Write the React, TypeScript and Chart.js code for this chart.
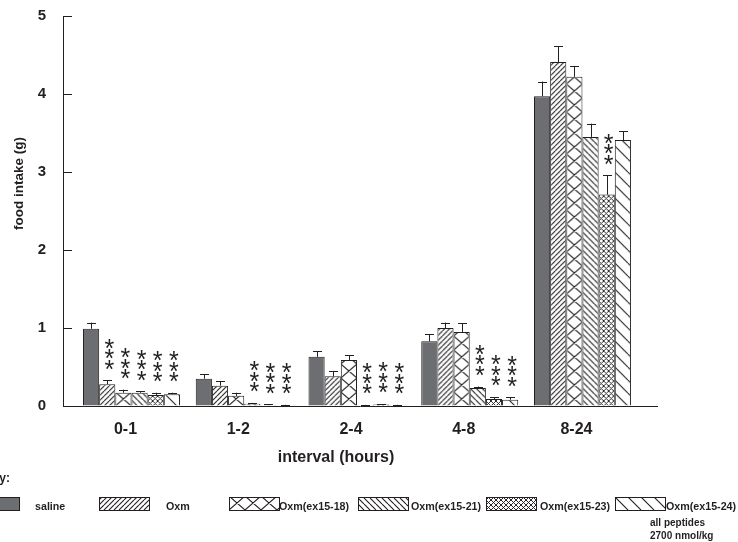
import React, { useEffect, useRef } from 'react';
import { Chart, registerables } from 'chart.js';

Chart.register(...registerables);

// ---- data -------------------------------------------------------------
const categories = ['0-1', '1-2', '2-4', '4-8', '8-24'];
const seriesNames = ['saline', 'Oxm', 'Oxm(ex15-18)', 'Oxm(ex15-21)', 'Oxm(ex15-23)', 'Oxm(ex15-24)'];

const saline = [0.99, 0.35, 0.63, 0.83, 3.97];
const oxm = [0.28, 0.26, 0.38, 1.0, 4.41];
const oxm1518 = [0.17, 0.13, 0.59, 0.95, 4.22];
const oxm1521 = [0.17, 0.03, 0.01, 0.23, 3.45];
const oxm1523 = [0.14, 0.01, 0.02, 0.09, 2.71];
const oxm1524 = [0.15, 0.01, 0.01, 0.08, 3.41];

const salineErr = [0.08, 0.06, 0.07, 0.09, 0.19];
const oxmErr = [0.05, 0.06, 0.07, 0.07, 0.2];
const oxm1518Err = [0.04, 0.04, 0.06, 0.11, 0.14];
const oxm1521Err = [0.02, 0.01, 0.005, 0.02, 0.17];
const oxm1523Err = [0.03, 0.01, 0.005, 0.025, 0.25];
const oxm1524Err = [0.02, 0.005, 0.005, 0.03, 0.11];

// number of significance asterisks above each bar
const salineSig = [0, 0, 0, 0, 0];
const oxmSig = [3, 0, 0, 0, 0];
const oxm1518Sig = [3, 0, 0, 0, 0];
const oxm1521Sig = [3, 3, 3, 3, 0];
const oxm1523Sig = [3, 3, 3, 3, 3];
const oxm1524Sig = [3, 3, 3, 3, 0];

const yTicks = [0, 1, 2, 3, 4, 5];

const values = [saline, oxm, oxm1518, oxm1521, oxm1523, oxm1524];
const errors = [salineErr, oxmErr, oxm1518Err, oxm1521Err, oxm1523Err, oxm1524Err];
const stars = [salineSig, oxmSig, oxm1518Sig, oxm1521Sig, oxm1523Sig, oxm1524Sig];

// ---- styling -----------------------------------------------------------
const INK = '#231f20';
const GREY = '#6d6e71';
const FONT = '"Liberation Sans", Arial, Helvetica, sans-serif';
const CAT_PCT = 0.86;
const fills = ['solid', 'fwd', 'diamond', 'back', 'fine', 'sparse'];

type Kind = 'solid' | 'fwd' | 'diamond' | 'back' | 'fine' | 'sparse';

const tileCache: Record<string, HTMLCanvasElement> = {};

function tile(kind: Kind): HTMLCanvasElement {
  if (tileCache[kind]) return tileCache[kind];
  const dims: Record<string, [number, number]> = {
    fwd: [5, 5],
    diamond: [16, 14],
    back: [6, 6],
    fine: [5, 5],
    sparse: [13, 13],
    solid: [4, 4],
  };
  const [w, h] = dims[kind];
  const c = document.createElement('canvas');
  c.width = w;
  c.height = h;
  const g = c.getContext('2d')!;
  g.fillStyle = '#ffffff';
  g.fillRect(0, 0, w, h);
  g.strokeStyle = INK;
  g.lineWidth = kind === 'fine' ? 0.95 : 1.1;
  const up = () => {
    for (let k = -1; k <= 1; k++) {
      g.moveTo(k * w, h);
      g.lineTo(k * w + w, 0);
    }
  };
  const down = () => {
    for (let k = -1; k <= 1; k++) {
      g.moveTo(k * w, 0);
      g.lineTo(k * w + w, h);
    }
  };
  g.beginPath();
  if (kind === 'fwd') up();
  if (kind === 'back' || kind === 'sparse') down();
  if (kind === 'diamond' || kind === 'fine') {
    up();
    down();
  }
  if (kind === 'solid') {
    g.fillStyle = GREY;
    g.fillRect(0, 0, w, h);
  }
  g.stroke();
  tileCache[kind] = c;
  return c;
}

function patternAt(ctx: CanvasRenderingContext2D, kind: Kind, left: number, bottom: number) {
  if (kind === 'solid') return GREY;
  const p = ctx.createPattern(tile(kind), 'repeat')!;
  p.setTransform(new DOMMatrix([1, 0, 0, 1, left, bottom]));
  return p;
}

const fillFor = (kind: Kind) => (c: any) => {
  const chart = c.chart;
  if (kind === 'solid') return GREY;
  if (c.type !== 'data' || !chart.scales || !chart.scales.x) return patternAt(chart.ctx, kind, 0, 0);
  const xs = chart.scales.x;
  const ys = chart.scales.y;
  const step = xs.getPixelForValue(1) - xs.getPixelForValue(0);
  const full = step * CAT_PCT;
  const w = full / values.length;
  const left = xs.getPixelForValue(c.dataIndex) - full / 2 + c.datasetIndex * w;
  return patternAt(chart.ctx, kind, left, ys.getPixelForValue(0));
};

// error bars, asterisks, axis titles, inner y ticks and the key
const decorations = {
  id: 'decorations',
  afterDatasetsDraw(chart: any) {
    const { ctx } = chart;
    const ys = chart.scales.y;
    ctx.save();
    ctx.strokeStyle = INK;
    ctx.lineWidth = 1;
    values.forEach((vals, di) => {
      const meta = chart.getDatasetMeta(di);
      vals.forEach((v, i) => {
        const el = meta.data[i];
        const x = Math.round(el.x) + 0.5;
        const top = ys.getPixelForValue(v + errors[di][i]);
        ctx.beginPath();
        ctx.moveTo(x, ys.getPixelForValue(v));
        ctx.lineTo(x, top);
        ctx.moveTo(x - 4.5, Math.round(top) + 0.5);
        ctx.lineTo(x + 4.5, Math.round(top) + 0.5);
        ctx.stroke();
        const n = stars[di][i];
        if (n > 0) {
          ctx.fillStyle = INK;
          ctx.font = `25px ${FONT}`;
          ctx.textAlign = 'center';
          ctx.textBaseline = 'alphabetic';
          for (let s = 0; s < n; s++) {
            const cy = top - 17 - s * 10.5;
            ctx.fillText('*', el.x + 2, cy + 14.4);
          }
        }
      });
    });
    ctx.restore();
  },
  afterDraw(chart: any) {
    const { ctx } = chart;
    const ys = chart.scales.y;
    const left = chart.chartArea.left;
    ctx.save();
    ctx.strokeStyle = INK;
    ctx.lineWidth = 1;
    ctx.beginPath();
    yTicks.forEach((t) => {
      const y = Math.round(ys.getPixelForValue(t)) + 0.5;
      ctx.moveTo(left, y);
      ctx.lineTo(left + 9, y);
    });
    ctx.stroke();

    ctx.fillStyle = INK;
    // axis titles
    ctx.font = `bold 16px ${FONT}`;
    ctx.textAlign = 'center';
    ctx.textBaseline = 'alphabetic';
    ctx.fillText('interval (hours)', 336, 462);

    ctx.save();
    ctx.translate(23, 183.5);
    ctx.rotate(-Math.PI / 2);
    ctx.font = `bold 13.5px ${FONT}`;
    ctx.textBaseline = 'alphabetic';
    ctx.fillText('food intake (g)', 0, 0);
    ctx.restore();

    // key
    ctx.font = `bold 12px ${FONT}`;
    ctx.textAlign = 'right';
    ctx.fillText('key:', 10, 482);

    const boxLefts = [-31, 99, 229, 358, 486, 615];
    const textLefts = [35, 166, 279, 411, 540, 666];
    const boxTop = 497;
    const boxH = 13;
    const boxW = 50;
    seriesNames.forEach((name, i) => {
      const kind = fills[i] as Kind;
      ctx.fillStyle = patternAt(ctx, kind, boxLefts[i], boxTop + boxH);
      ctx.fillRect(boxLefts[i], boxTop, boxW, boxH);
      ctx.strokeStyle = INK;
      ctx.lineWidth = 1;
      ctx.strokeRect(boxLefts[i] + 0.5, boxTop + 0.5, boxW, boxH);
      ctx.fillStyle = INK;
      ctx.font = `bold 10.7px ${FONT}`;
      ctx.textAlign = 'left';
      ctx.fillText(name, textLefts[i], 510);
    });
    ctx.font = `bold 10px ${FONT}`;
    ctx.fillText('all peptides', 650, 526);
    ctx.fillText('2700 nmol/kg', 650, 539);
    ctx.restore();
  },
};

export default function App() {
  const canvasRef = useRef<HTMLCanvasElement | null>(null);

  useEffect(() => {
    const canvas = canvasRef.current;
    if (!canvas) return;
    Chart.defaults.font.family = FONT;
    const chart = new Chart(canvas, {
      type: 'bar',
      data: {
        datasets: values.map((vals, di) => ({
          label: seriesNames[di],
          data: vals.map((v, i) => ({ x: i, y: v })),
          backgroundColor: fillFor(fills[di] as Kind),
          borderColor: INK,
          borderWidth: 1,
          categoryPercentage: CAT_PCT,
          barPercentage: 1,
        })),
      },
      options: {
        animation: false,
        responsive: true,
        maintainAspectRatio: false,
        events: [],
        layout: { padding: { top: 16, right: 81, bottom: 0, left: 0 } },
        plugins: { legend: { display: false }, tooltip: { enabled: false } },
        scales: {
          x: {
            type: 'linear',
            min: -0.6075,
            max: 4.661,
            offset: false,
            afterBuildTicks: (s: any) => {
              s.ticks = categories.map((_, i) => ({ value: i }));
            },
            afterFit: (s: any) => {
              s.height = 136;
              s.paddingLeft = 0;
              s.paddingRight = 0;
            },
            ticks: {
              callback: (v: any) => categories[v] ?? '',
              padding: 14,
              labelOffset: -6,
              autoSkip: false,
              maxRotation: 0,
              color: INK,
              font: { size: 16, weight: 'bold' },
            },
            grid: { display: true, offset: false, drawOnChartArea: false, drawTicks: false, color: INK },
            border: { display: true, color: INK, width: 1 },
          },
          y: {
            min: 0,
            max: 5,
            afterBuildTicks: (s: any) => {
              s.ticks = yTicks.map((v) => ({ value: v }));
            },
            afterFit: (s: any) => {
              s.width = 63;
              s.paddingTop = 0;
              s.paddingBottom = 0;
            },
            ticks: {
              padding: 17,
              color: INK,
              font: { size: 15, weight: 'bold' },
            },
            grid: { display: true, drawOnChartArea: false, drawTicks: false, color: INK },
            border: { display: true, color: INK, width: 1 },
          },
        },
      } as any,
      plugins: [decorations],
    });
    return () => chart.destroy();
  }, []);

  return (
    <div style={{ position: 'fixed', left: 0, top: 0, width: 738, height: 542, background: '#fff' }}>
      <canvas ref={canvasRef} />
    </div>
  );
}
